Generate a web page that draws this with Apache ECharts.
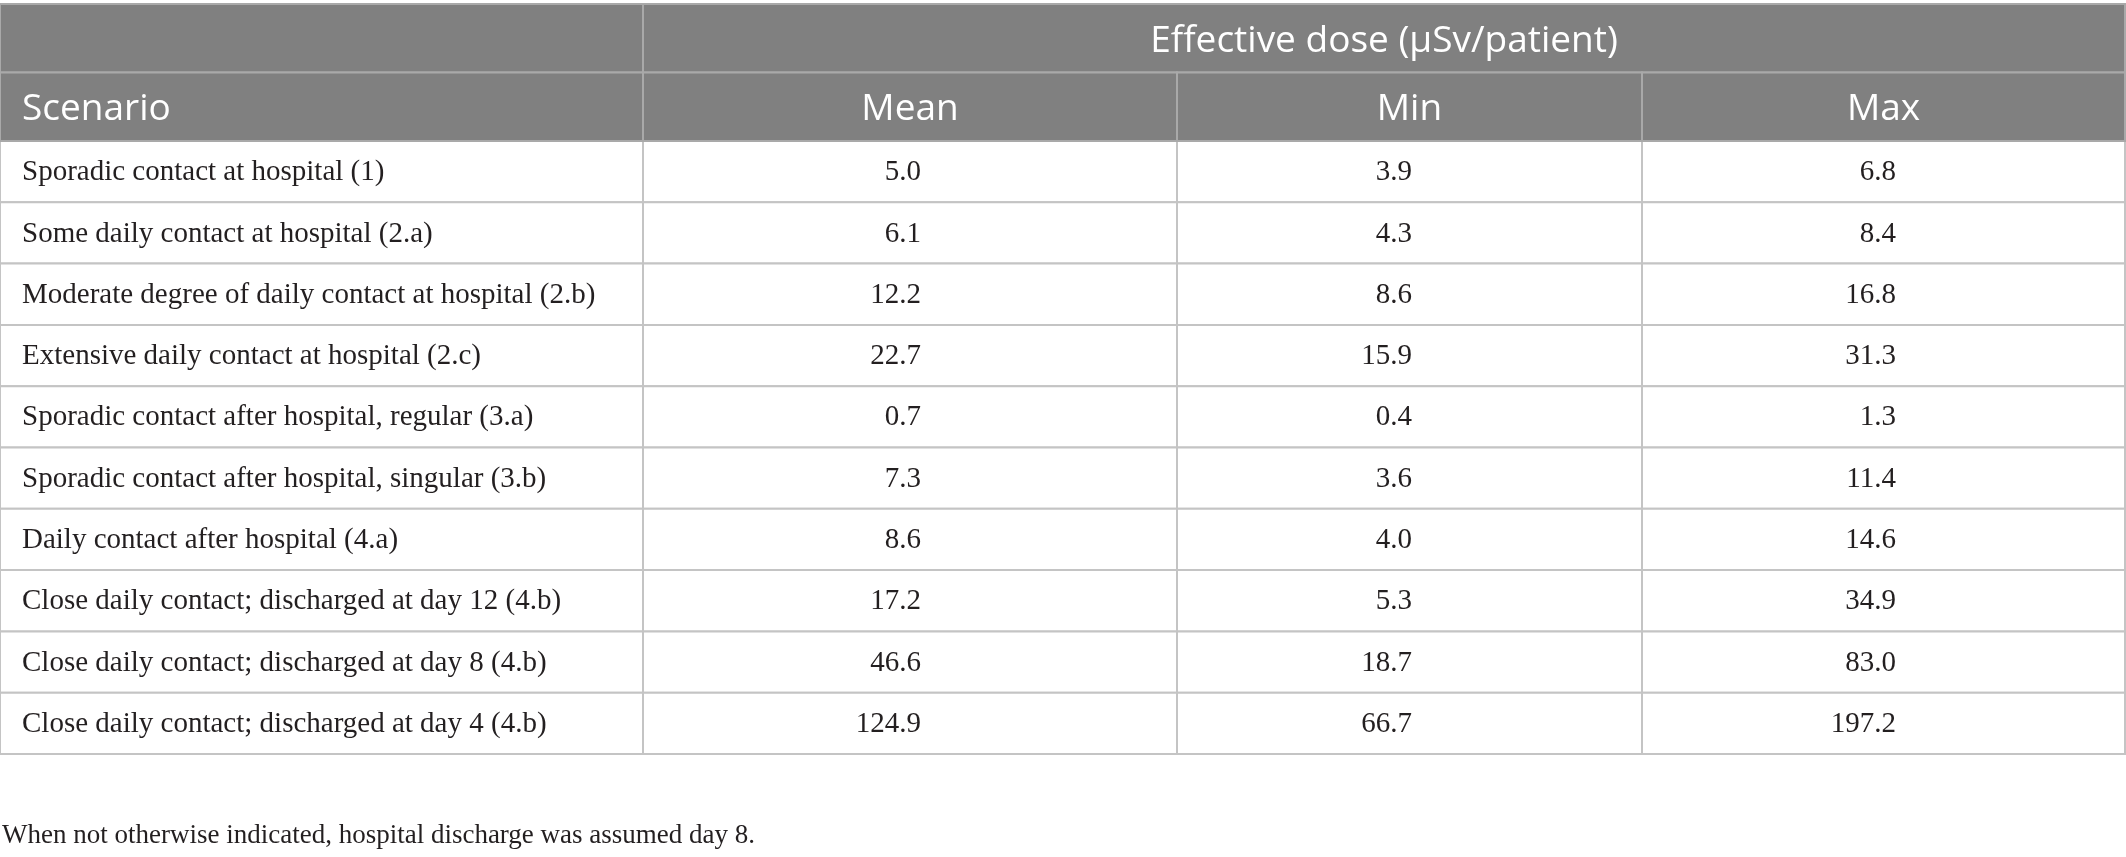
<!DOCTYPE html>
<html lang="en">
<head>
  <meta charset="UTF-8">
  <title>Effective dose per patient</title>
  <script src="https://cdn.jsdelivr.net/npm/echarts@6/dist/echarts.min.js"></script>
  <style>
    html, body { margin: 0; padding: 0; background: #fff; }
    #main { width: 2126px; height: 857px; }
  </style>
</head>
<body>
  <div id="main"></div>
  <script>
    // table contents
    var scenarios = [
      'Sporadic contact at hospital (1)',
      'Some daily contact at hospital (2.a)',
      'Moderate degree of daily contact at hospital (2.b)',
      'Extensive daily contact at hospital (2.c)',
      'Sporadic contact after hospital, regular (3.a)',
      'Sporadic contact after hospital, singular (3.b)',
      'Daily contact after hospital (4.a)',
      'Close daily contact; discharged at day 12 (4.b)',
      'Close daily contact; discharged at day 8 (4.b)',
      'Close daily contact; discharged at day 4 (4.b)'
    ];
    var meanDose = [5.0, 6.1, 12.2, 22.7, 0.7, 7.3, 8.6, 17.2, 46.6, 124.9];
    var minDose = [3.9, 4.3, 8.6, 15.9, 0.4, 3.6, 4.0, 5.3, 18.7, 66.7];
    var maxDose = [6.8, 8.4, 16.8, 31.3, 1.3, 11.4, 14.6, 34.9, 83.0, 197.2];
    var groupTitle = 'Effective dose (μSv/patient)';
    var columnTitles = ['Scenario', 'Mean', 'Min', 'Max'];
    var footnote = 'When not otherwise indicated, hospital discharge was assumed day 8.';

    // layout (column widths and where the numbers end inside their column)
    var colWidths = [643, 534, 465, 483];
    var numRight = [278, 235, 254];
    var colEdges = [0];
    colWidths.forEach(function (w, i) { colEdges.push(colEdges[i] + w); });
    var tableWidth = colEdges[colEdges.length - 1];

    var headFont = '37px "Open Sans"';
    var bodyFont = '29px "Liberation Serif"';

    // header cells: [first col, last col + 1, row, text]
    var headerCells = [
      [0, 1, 0, ''],
      [1, 4, 0, groupTitle]
    ];
    columnTitles.forEach(function (t, i) { headerCells.push([i, i + 1, 1, t]); });

    // body cells built from the arrays
    var bodyCells = [];
    var numCols = [meanDose, minDose, maxDose];
    scenarios.forEach(function (s, r) {
      bodyCells.push([0, 1, r, s]);
      numCols.forEach(function (arr, k) {
        bodyCells.push([k + 1, k + 2, r, arr[r].toFixed(1)]);
      });
    });

    function cellRender(cells, isHead) {
      return function (params, api) {
        var cell = cells[params.dataIndex];
        var c0 = cell[0], c1 = cell[1], row = cell[2], text = cell[3];
        var p0 = api.coord([colEdges[c0], row]);
        var p1 = api.coord([colEdges[c1], row]);
        var h = api.size([0, 1])[1];
        var x = p0[0], w = p1[0] - p0[0], y = p0[1] - h / 2;
        var tx, align;
        if (c0 === 0) {
          tx = x + 22; align = 'left';
        } else if (isHead) {
          tx = x + w / 2; align = 'center';
        } else {
          tx = api.coord([colEdges[c0] + numRight[c0 - 1], row])[0]; align = 'right';
        }
        return {
          type: 'group',
          children: [{
            type: 'rect',
            shape: { x: x, y: y, width: w, height: h },
            style: {
              fill: isHead ? '#808080' : '#fff',
              stroke: isHead ? '#a9a9a9' : '#c4c4c4',
              lineWidth: 2
            }
          }, {
            type: 'text',
            style: {
              x: tx,
              y: p0[1] + (isHead ? 3 : 1),
              text: text,
              font: isHead ? headFont : bodyFont,
              fill: isHead ? '#fff' : '#231f20',
              align: align,
              verticalAlign: 'middle'
            }
          }]
        };
      };
    }

    var myChart = echarts.init(document.getElementById('main'));
    var option = {
      animation: false,
      backgroundColor: '#fff',
      title: {
        text: footnote,
        left: 2,
        top: 822,
        padding: 0,
        textStyle: {
          fontFamily: 'Liberation Serif',
          fontSize: 27,
          fontWeight: 'normal',
          color: '#231f20'
        }
      },
      grid: [
        { left: 0, top: 4, width: tableWidth, height: 137 },
        { left: 0, top: 141, width: tableWidth, height: 613 }
      ],
      xAxis: [
        { gridIndex: 0, type: 'value', min: 0, max: tableWidth, show: false },
        { gridIndex: 1, type: 'value', min: 0, max: tableWidth, show: false }
      ],
      yAxis: [
        { gridIndex: 0, type: 'category', inverse: true, data: ['group', 'columns'], show: false },
        { gridIndex: 1, type: 'category', inverse: true, data: scenarios, show: false }
      ],
      series: [{
        type: 'custom',
        xAxisIndex: 1,
        yAxisIndex: 1,
        silent: true,
        clip: false,
        renderItem: cellRender(bodyCells, false),
        data: bodyCells.map(function (c) { return [colEdges[c[0]], c[2]]; })
      }, {
        type: 'custom',
        xAxisIndex: 0,
        yAxisIndex: 0,
        silent: true,
        clip: false,
        renderItem: cellRender(headerCells, true),
        data: headerCells.map(function (c) { return [colEdges[c[0]], c[2]]; })
      }]
    };
    myChart.setOption(option);
  </script>
</body>
</html>
